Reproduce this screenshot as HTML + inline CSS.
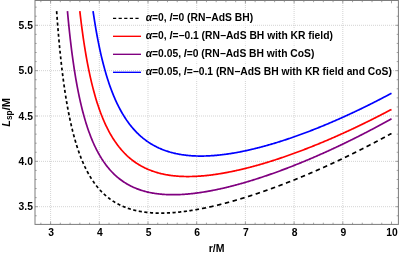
<!DOCTYPE html>
<html><head><meta charset="utf-8"><title>Lsp/M vs r/M</title>
<style>
html,body{margin:0;padding:0;background:#fff;}
body{width:399px;height:255px;overflow:hidden;}
svg{display:block;}
text{font-family:"Liberation Sans",Arial,Helvetica,sans-serif;font-weight:bold;fill:#000;}
.t{font-size:10.3px;}
.i{font-style:italic;}
</style></head><body>
<svg width="399" height="255" viewBox="0 0 399 255">
<rect x="0" y="0" width="399" height="255" fill="#fff"/>
<path d="M50.60 1V224.4M99.30 1V224.4M148.00 1V224.4M196.70 1V224.4M245.40 1V224.4M294.10 1V224.4M342.80 1V224.4M35.0 206.70H398.4M35.0 161.35H398.4M35.0 116.00H398.4M35.0 70.65H398.4M35.0 25.30H398.4" stroke="#c8c8c8" stroke-width="0.8" stroke-dasharray="1 1" fill="none"/>
<path d="M56.62 11.18 L56.83 14.06 L56.85 14.30M57.04 16.88 L57.24 19.63 L57.26 19.86M57.47 22.54 L57.68 25.17 L57.71 25.60M57.92 28.17 L58.13 30.68 L58.16 31.09M58.39 33.74 L58.59 36.14 L58.65 36.73M58.89 39.44 L59.09 41.72 L59.16 42.47M59.41 45.06 L59.61 47.23 L59.70 48.12M59.96 50.75 L60.17 52.81 L60.25 53.66M60.53 56.32 L60.74 58.28 L60.84 59.24M61.13 61.93 L61.34 63.78 L61.46 64.85M61.77 67.54 L61.98 69.30 L62.12 70.45M62.45 73.14 L62.66 74.80 L62.83 76.16M63.16 78.70 L63.37 80.27 L63.56 81.68M63.92 84.33 L64.13 85.80 L64.33 87.26 L64.35 87.38M64.71 89.86 L64.92 91.25 L65.13 92.62 L65.18 92.96M65.58 95.52 L65.79 96.82 L65.99 98.11 L66.06 98.53M66.48 101.03 L66.68 102.26 L66.89 103.46 L67.00 104.06M67.45 106.59 L67.65 107.74 L67.86 108.86 L68.00 109.61M68.48 112.15 L68.69 113.22 L68.90 114.27 L69.09 115.23M69.59 117.68 L69.80 118.67 L70.00 119.65 L70.21 120.62 L70.23 120.70M70.78 123.22 L70.99 124.14 L71.20 125.05 L71.40 125.94 L71.47 126.24M72.06 128.71 L72.27 129.57 L72.48 130.41 L72.68 131.24 L72.81 131.72M73.44 134.20 L73.65 134.99 L73.86 135.77 L74.07 136.53 L74.26 137.23M74.93 139.63 L75.14 140.36 L75.35 141.07 L75.55 141.78 L75.76 142.47 L75.81 142.65M76.56 145.08 L76.76 145.74 L76.97 146.39 L77.18 147.03 L77.39 147.67 L77.51 148.04M78.30 150.41 L78.51 151.02 L78.72 151.61 L78.93 152.20 L79.13 152.78 L79.34 153.36M80.22 155.75 L80.43 156.29 L80.64 156.83 L80.84 157.37 L81.05 157.90 L81.26 158.42 L81.35 158.64M82.31 161.00 L82.52 161.49 L82.73 161.98 L82.94 162.46 L83.14 162.94 L83.35 163.41 L83.54 163.84M84.60 166.15 L84.80 166.60 L85.01 167.03 L85.22 167.47 L85.43 167.89 L85.63 168.32 L85.84 168.74 L85.96 168.98M87.10 171.21 L87.31 171.61 L87.52 172.00 L87.73 172.38 L87.93 172.76 L88.14 173.14 L88.35 173.52 L88.56 173.89 L88.61 173.98M89.85 176.14 L90.06 176.48 L90.27 176.83 L90.47 177.17 L90.68 177.51 L90.89 177.84 L91.10 178.18 L91.30 178.51 L91.49 178.80M92.88 180.91 L93.09 181.21 L93.29 181.52 L93.50 181.82 L93.71 182.11 L93.92 182.41 L94.12 182.70 L94.33 182.99 L94.54 183.27 L94.69 183.49M96.20 185.48 L96.41 185.74 L96.61 186.01 L96.82 186.27 L97.03 186.53 L97.24 186.78 L97.44 187.04 L97.65 187.29 L97.86 187.54 L98.06 187.78 L98.19 187.93M99.85 189.82 L100.05 190.05 L100.26 190.28 L100.47 190.50 L100.68 190.72 L100.88 190.94 L101.09 191.16 L101.30 191.38 L101.51 191.59 L101.71 191.81 L101.92 192.02 L101.99 192.09M103.79 193.84 L104.00 194.04 L104.20 194.23 L104.41 194.42 L104.62 194.61 L104.83 194.80 L105.03 194.98 L105.24 195.17 L105.45 195.35 L105.65 195.53 L105.86 195.71 L106.07 195.89 L106.12 195.94M108.08 197.54 L108.28 197.71 L108.49 197.87 L108.70 198.03 L108.91 198.19 L109.11 198.35 L109.32 198.50 L109.53 198.66 L109.74 198.81 L109.94 198.97 L110.15 199.12 L110.36 199.27 L110.57 199.42 L110.58 199.43M112.64 200.84 L112.85 200.98 L113.05 201.11 L113.26 201.25 L113.47 201.38 L113.68 201.51 L113.88 201.64 L114.09 201.77 L114.30 201.90 L114.51 202.03 L114.71 202.15 L114.92 202.28 L115.13 202.40 L115.30 202.50M117.50 203.74 L117.71 203.85 L117.91 203.97 L118.12 204.07 L118.33 204.18 L118.54 204.29 L118.74 204.40 L118.95 204.50 L119.16 204.61 L119.37 204.71 L119.57 204.82 L119.78 204.92 L119.99 205.02 L120.20 205.12 L120.30 205.17M122.56 206.21 L122.77 206.30 L122.98 206.38 L123.19 206.47 L123.39 206.56 L123.60 206.65 L123.81 206.73 L124.02 206.82 L124.22 206.90 L124.43 206.99 L124.64 207.07 L124.85 207.15 L125.05 207.23 L125.26 207.31 L125.47 207.39 L125.49 207.40M127.84 208.26 L128.04 208.33 L128.25 208.40 L128.46 208.47 L128.67 208.54 L128.87 208.60 L129.08 208.67 L129.29 208.74 L129.50 208.81 L129.70 208.87 L129.91 208.94 L130.12 209.00 L130.33 209.06 L130.53 209.13 L130.74 209.19 L130.83 209.22M133.25 209.90 L133.46 209.95 L133.66 210.01 L133.87 210.06 L134.08 210.11 L134.29 210.17 L134.49 210.22 L134.70 210.27 L134.91 210.32 L135.12 210.37 L135.32 210.42 L135.53 210.47 L135.74 210.52 L135.95 210.56 L136.15 210.61 L136.29 210.64M138.75 211.16 L138.95 211.20 L139.16 211.24 L139.37 211.28 L139.58 211.32 L139.78 211.36 L139.99 211.39 L140.20 211.43 L140.41 211.47 L140.61 211.50 L140.82 211.54 L141.03 211.58 L141.24 211.61 L141.44 211.65 L141.65 211.68 L141.84 211.71M144.31 212.08 L144.52 212.11 L144.73 212.13 L144.94 212.16 L145.14 212.19 L145.35 212.21 L145.56 212.24 L145.77 212.26 L145.97 212.29 L146.18 212.31 L146.39 212.34 L146.60 212.36 L146.80 212.39 L147.01 212.41 L147.22 212.43 L147.43 212.45 L147.44 212.45M149.93 212.69 L150.14 212.71 L150.35 212.72 L150.56 212.74 L150.76 212.76 L150.97 212.77 L151.18 212.79 L151.39 212.80 L151.59 212.82 L151.80 212.83 L152.01 212.84 L152.22 212.86 L152.42 212.87 L152.63 212.88 L152.84 212.89 L153.05 212.91 L153.08 212.91M155.57 213.02 L155.78 213.03 L155.98 213.04 L156.19 213.05 L156.40 213.05 L156.61 213.06 L156.81 213.07 L157.02 213.07 L157.23 213.08 L157.44 213.08 L157.64 213.09 L157.85 213.09 L158.06 213.09 L158.27 213.10 L158.47 213.10 L158.68 213.10 L158.72 213.10M161.22 213.12 L161.43 213.12 L161.64 213.11 L161.85 213.11 L162.05 213.11 L162.26 213.11 L162.47 213.11 L162.68 213.10 L162.88 213.10 L163.09 213.10 L163.30 213.09 L163.51 213.09 L163.71 213.09 L163.92 213.08 L164.13 213.08 L164.34 213.07 L164.37 213.07M166.88 212.99 L167.08 212.98 L167.29 212.98 L167.50 212.97 L167.71 212.96 L167.91 212.95 L168.12 212.94 L168.33 212.93 L168.54 212.92 L168.74 212.91 L168.95 212.90 L169.16 212.89 L169.37 212.87 L169.57 212.86 L169.78 212.85 L169.99 212.84 L170.02 212.84M172.51 212.68 L172.72 212.66 L172.93 212.65 L173.14 212.63 L173.34 212.61 L173.55 212.60 L173.76 212.58 L173.97 212.57 L174.17 212.55 L174.38 212.53 L174.59 212.52 L174.80 212.50 L175.00 212.48 L175.21 212.46 L175.42 212.45 L175.62 212.43 L175.66 212.42M178.15 212.19 L178.36 212.17 L178.56 212.15 L178.77 212.13 L178.98 212.10 L179.19 212.08 L179.39 212.06 L179.60 212.04 L179.81 212.01 L180.02 211.99 L180.22 211.97 L180.43 211.95 L180.64 211.92 L180.85 211.90 L181.05 211.88 L181.26 211.85 L181.28 211.85M183.75 211.55 L183.96 211.52 L184.17 211.50 L184.37 211.47 L184.58 211.44 L184.79 211.42 L185.00 211.39 L185.20 211.36 L185.41 211.33 L185.62 211.31 L185.83 211.28 L186.03 211.25 L186.24 211.22 L186.45 211.19 L186.66 211.16 L186.86 211.14 L186.88 211.13M189.37 210.77 L189.58 210.74 L189.78 210.71 L189.99 210.68 L190.20 210.65 L190.41 210.61 L190.61 210.58 L190.82 210.55 L191.03 210.52 L191.24 210.48 L191.44 210.45 L191.65 210.42 L191.86 210.39 L192.07 210.35 L192.27 210.32 L192.48 210.28 L192.64 210.26M195.37 209.80 L195.58 209.76 L195.78 209.73 L195.99 209.69 L196.20 209.65 L196.41 209.62 L196.61 209.58 L196.82 209.54 L197.03 209.51 L197.24 209.47 L197.44 209.43 L197.65 209.39 L197.86 209.36 L198.07 209.32 L198.27 209.28 L198.48 209.24 L198.69 209.20 L198.90 209.17 L198.98 209.15M201.97 208.58 L202.18 208.54 L202.39 208.49 L202.60 208.45 L202.80 208.41 L203.01 208.37 L203.22 208.33 L203.43 208.29 L203.63 208.25 L203.84 208.20 L204.05 208.16 L204.26 208.12 L204.46 208.08 L204.67 208.03 L204.88 207.99 L205.09 207.95 L205.29 207.91 L205.50 207.86 L205.71 207.82 L205.92 207.78 L205.93 207.77M209.22 207.07 L209.43 207.02 L209.63 206.98 L209.84 206.93 L210.05 206.88 L210.26 206.84 L210.46 206.79 L210.67 206.74 L210.88 206.70 L211.09 206.65 L211.29 206.60 L211.50 206.56 L211.71 206.51 L211.92 206.46 L212.12 206.42 L212.33 206.37 L212.54 206.32 L212.75 206.27 L212.95 206.23 L213.16 206.18 L213.37 206.13 L213.56 206.09M217.02 205.26 L217.22 205.21 L217.43 205.16 L217.64 205.11 L217.85 205.06 L218.05 205.01 L218.26 204.96 L218.47 204.91 L218.68 204.86 L218.88 204.81 L219.09 204.75 L219.30 204.70 L219.51 204.65 L219.71 204.60 L219.92 204.55 L220.13 204.50 L220.34 204.44 L220.54 204.39 L220.75 204.34 L220.96 204.29 L221.17 204.23 L221.37 204.18M224.81 203.29 L225.02 203.24 L225.23 203.18 L225.44 203.13 L225.64 203.07 L225.85 203.02 L226.06 202.96 L226.27 202.91 L226.47 202.85 L226.68 202.79 L226.89 202.74 L227.10 202.68 L227.30 202.63 L227.51 202.57 L227.72 202.52 L227.93 202.46 L228.13 202.40 L228.34 202.35 L228.55 202.29 L228.76 202.23 L228.96 202.18 L229.15 202.12M232.58 201.17 L232.78 201.11 L232.99 201.05 L233.20 201.00 L233.41 200.94 L233.61 200.88 L233.82 200.82 L234.03 200.76 L234.24 200.70 L234.44 200.64 L234.65 200.58 L234.86 200.52 L235.07 200.46 L235.27 200.40 L235.48 200.34 L235.69 200.28 L235.90 200.22 L236.10 200.16 L236.31 200.10 L236.52 200.04 L236.73 199.98 L236.90 199.93M240.30 198.92 L240.51 198.86 L240.72 198.80 L240.93 198.73 L241.13 198.67 L241.34 198.61 L241.55 198.54 L241.76 198.48 L241.96 198.42 L242.17 198.36 L242.38 198.29 L242.59 198.23 L242.79 198.17 L243.00 198.10 L243.21 198.04 L243.42 197.98 L243.62 197.91 L243.83 197.85 L244.04 197.78 L244.25 197.72 L244.45 197.66 L244.61 197.61M248.00 196.55 L248.21 196.48 L248.41 196.41 L248.62 196.35 L248.83 196.28 L249.04 196.22 L249.24 196.15 L249.45 196.08 L249.66 196.02 L249.87 195.95 L250.07 195.88 L250.28 195.82 L250.49 195.75 L250.70 195.68 L250.90 195.62 L251.11 195.55 L251.32 195.48 L251.53 195.42 L251.73 195.35 L251.94 195.28 L252.15 195.21 L252.29 195.17M255.66 194.06 L255.86 193.99 L256.07 193.92 L256.28 193.85 L256.49 193.78 L256.69 193.71 L256.90 193.64 L257.11 193.58 L257.32 193.51 L257.52 193.44 L257.73 193.37 L257.94 193.30 L258.15 193.23 L258.35 193.16 L258.56 193.09 L258.77 193.02 L258.98 192.95 L259.18 192.88 L259.39 192.81 L259.60 192.73 L259.81 192.66 L259.91 192.63M263.28 191.47 L263.49 191.40 L263.70 191.32 L263.90 191.25 L264.11 191.18 L264.32 191.11 L264.53 191.04 L264.73 190.96 L264.94 190.89 L265.15 190.82 L265.36 190.74 L265.56 190.67 L265.77 190.60 L265.98 190.53 L266.19 190.45 L266.39 190.38 L266.60 190.31 L266.81 190.23 L267.02 190.16 L267.22 190.09 L267.43 190.01 L267.52 189.98M270.87 188.78 L271.08 188.71 L271.29 188.63 L271.49 188.56 L271.70 188.48 L271.91 188.40 L272.12 188.33 L272.32 188.25 L272.53 188.18 L272.74 188.10 L272.95 188.03 L273.15 187.95 L273.36 187.88 L273.57 187.80 L273.78 187.72 L273.98 187.65 L274.19 187.57 L274.40 187.49 L274.61 187.42 L274.81 187.34 L275.02 187.27 L275.09 187.24M278.43 186.00 L278.64 185.92 L278.84 185.84 L279.05 185.77 L279.26 185.69 L279.46 185.61 L279.67 185.53 L279.88 185.45 L280.09 185.38 L280.29 185.30 L280.50 185.22 L280.71 185.14 L280.92 185.06 L281.12 184.98 L281.33 184.90 L281.54 184.82 L281.75 184.75 L281.95 184.67 L282.16 184.59 L282.37 184.51 L282.58 184.43 L282.63 184.41M285.95 183.13 L286.16 183.05 L286.36 182.97 L286.57 182.89 L286.78 182.81 L286.99 182.73 L287.19 182.65 L287.40 182.57 L287.61 182.49 L287.82 182.40 L288.02 182.32 L288.23 182.24 L288.44 182.16 L288.65 182.08 L288.85 182.00 L289.06 181.92 L289.27 181.83 L289.48 181.75 L289.68 181.67 L289.89 181.59 L290.10 181.51 L290.13 181.49M293.43 180.18 L293.64 180.10 L293.85 180.01 L294.06 179.93 L294.26 179.85 L294.47 179.76 L294.68 179.68 L294.89 179.60 L295.09 179.51 L295.30 179.43 L295.51 179.35 L295.72 179.26 L295.92 179.18 L296.13 179.09 L296.34 179.01 L296.55 178.93 L296.75 178.84 L296.96 178.76 L297.17 178.67 L297.38 178.59 L297.58 178.51 L297.60 178.50M300.89 177.15 L301.09 177.07 L301.30 176.98 L301.51 176.89 L301.72 176.81 L301.92 176.72 L302.13 176.64 L302.34 176.55 L302.55 176.46 L302.75 176.38 L302.96 176.29 L303.17 176.21 L303.38 176.12 L303.58 176.03 L303.79 175.95 L304.00 175.86 L304.21 175.77 L304.41 175.69 L304.62 175.60 L304.83 175.51 L305.04 175.43M308.32 174.04 L308.53 173.95 L308.74 173.86 L308.94 173.77 L309.15 173.69 L309.36 173.60 L309.57 173.51 L309.77 173.42 L309.98 173.33 L310.19 173.24 L310.40 173.15 L310.60 173.07 L310.81 172.98 L311.02 172.89 L311.23 172.80 L311.43 172.71 L311.64 172.62 L311.85 172.53 L312.06 172.44 L312.26 172.35 L312.45 172.27M315.72 170.85 L315.93 170.76 L316.14 170.67 L316.34 170.58 L316.55 170.49 L316.76 170.40 L316.97 170.31 L317.17 170.22 L317.38 170.13 L317.59 170.04 L317.80 169.94 L318.00 169.85 L318.21 169.76 L318.42 169.67 L318.63 169.58 L318.83 169.49 L319.04 169.40 L319.25 169.30 L319.46 169.21 L319.66 169.12 L319.82 169.05M323.07 167.60 L323.28 167.51 L323.48 167.42 L323.69 167.33 L323.90 167.23 L324.11 167.14 L324.31 167.05 L324.52 166.95 L324.73 166.86 L324.94 166.77 L325.14 166.67 L325.35 166.58 L325.56 166.48 L325.77 166.39 L325.97 166.30 L326.18 166.20 L326.39 166.11 L326.60 166.02 L326.80 165.92 L327.01 165.83 L327.17 165.76M330.40 164.28 L330.61 164.19 L330.81 164.09 L331.02 163.99 L331.23 163.90 L331.44 163.80 L331.64 163.71 L331.85 163.61 L332.06 163.52 L332.27 163.42 L332.47 163.32 L332.68 163.23 L332.89 163.13 L333.10 163.04 L333.30 162.94 L333.51 162.84 L333.72 162.75 L333.93 162.65 L334.13 162.56 L334.34 162.46 L334.48 162.39M337.71 160.88 L337.92 160.78 L338.13 160.69 L338.34 160.59 L338.54 160.49 L338.75 160.39 L338.96 160.30 L339.17 160.20 L339.37 160.10 L339.58 160.00 L339.79 159.90 L339.99 159.81 L340.20 159.71 L340.41 159.61 L340.62 159.51 L340.82 159.41 L341.03 159.31 L341.24 159.21 L341.45 159.12 L341.65 159.02 L341.76 158.97M344.97 157.43 L345.18 157.33 L345.39 157.23 L345.60 157.13 L345.80 157.03 L346.01 156.93 L346.22 156.83 L346.43 156.73 L346.63 156.63 L346.84 156.53 L347.05 156.43 L347.26 156.33 L347.46 156.23 L347.67 156.12 L347.88 156.02 L348.09 155.92 L348.29 155.82 L348.50 155.72 L348.71 155.62 L348.92 155.52 L349.02 155.47M352.22 153.90 L352.43 153.80 L352.63 153.70 L352.84 153.60 L353.05 153.49 L353.26 153.39 L353.46 153.29 L353.67 153.19 L353.88 153.08 L354.09 152.98 L354.29 152.88 L354.50 152.78 L354.71 152.67 L354.92 152.57 L355.12 152.47 L355.33 152.36 L355.54 152.26 L355.75 152.16 L355.95 152.05 L356.16 151.95 L356.23 151.92M359.43 150.32 L359.64 150.21 L359.84 150.11 L360.05 150.00 L360.26 149.90 L360.47 149.79 L360.67 149.69 L360.88 149.58 L361.09 149.48 L361.30 149.37 L361.50 149.27 L361.71 149.16 L361.92 149.06 L362.13 148.95 L362.33 148.85 L362.54 148.74 L362.75 148.64 L362.96 148.53 L363.16 148.43 L363.37 148.32 L363.42 148.30M366.60 146.67 L366.81 146.56 L367.02 146.46 L367.23 146.35 L367.43 146.24 L367.64 146.14 L367.85 146.03 L368.06 145.92 L368.26 145.81 L368.47 145.71 L368.68 145.60 L368.89 145.49 L369.09 145.39 L369.30 145.28 L369.51 145.17 L369.72 145.06 L369.92 144.96 L370.13 144.85 L370.34 144.74 L370.55 144.63 L370.58 144.62M373.74 142.96 L373.95 142.86 L374.16 142.75 L374.37 142.64 L374.57 142.53 L374.78 142.42 L374.99 142.31 L375.20 142.20 L375.40 142.09 L375.61 141.98 L375.82 141.87 L376.03 141.76 L376.23 141.65 L376.44 141.55 L376.65 141.44 L376.86 141.33 L377.06 141.22 L377.27 141.11 L377.48 141.00 L377.69 140.89 L377.72 140.87M380.87 139.19 L381.07 139.08 L381.28 138.97 L381.49 138.86 L381.70 138.75 L381.90 138.64 L382.11 138.53 L382.32 138.42 L382.53 138.30 L382.73 138.19 L382.94 138.08 L383.15 137.97 L383.36 137.86 L383.56 137.75 L383.77 137.63 L383.98 137.52 L384.19 137.41 L384.39 137.30 L384.60 137.19 L384.81 137.07M387.94 135.38 L388.15 135.26 L388.35 135.15 L388.56 135.04 L388.77 134.92 L388.98 134.81 L389.18 134.70 L389.39 134.58 L389.60 134.47 L389.81 134.35 L390.01 134.24 L390.22 134.13 L390.43 134.01 L390.64 133.90 L390.84 133.79 L391.05 133.67 L391.26 133.56 L391.47 133.44 L391.50 133.42" stroke="#000000" stroke-width="1.7" fill="none"/>
<path d="M67.45 11.05 L68.14 18.56 L68.83 25.61 L69.52 32.25 L70.21 38.52 L70.90 44.44 L71.59 50.05 L72.29 55.37 L72.98 60.41 L73.67 65.21 L74.36 69.78 L75.05 74.13 L75.74 78.28 L76.44 82.25 L77.13 86.03 L77.82 89.66 L78.51 93.13 L79.20 96.46 L79.89 99.65 L80.59 102.72 L81.28 105.66 L81.97 108.49 L82.66 111.21 L83.35 113.83 L84.04 116.35 L84.73 118.78 L85.43 121.13 L86.12 123.39 L86.81 125.57 L87.50 127.68 L88.19 129.71 L88.88 131.68 L89.58 133.58 L90.27 135.42 L90.96 137.20 L91.65 138.92 L92.34 140.59 L93.03 142.21 L93.73 143.77 L94.42 145.29 L95.11 146.76 L95.80 148.18 L96.49 149.57 L97.18 150.91 L97.87 152.21 L98.57 153.47 L99.26 154.70 L99.95 155.89 L100.64 157.05 L101.33 158.17 L102.02 159.27 L102.72 160.33 L103.41 161.36 L104.10 162.37 L104.79 163.34 L105.48 164.29 L106.17 165.21 L106.87 166.11 L107.56 166.98 L108.25 167.83 L108.94 168.66 L109.63 169.46 L110.32 170.25 L111.01 171.01 L111.71 171.75 L112.40 172.47 L113.09 173.18 L113.78 173.86 L114.47 174.53 L115.16 175.17 L115.86 175.81 L116.55 176.42 L117.24 177.02 L117.93 177.60 L118.62 178.17 L119.31 178.72 L120.01 179.26 L120.70 179.78 L121.39 180.29 L122.08 180.79 L122.77 181.27 L123.46 181.74 L124.15 182.20 L124.85 182.65 L125.54 183.08 L126.23 183.50 L126.92 183.92 L127.61 184.32 L128.30 184.70 L129.00 185.08 L129.69 185.45 L130.38 185.81 L131.07 186.16 L131.76 186.50 L132.45 186.83 L133.15 187.15 L133.84 187.46 L134.53 187.76 L135.22 188.05 L135.91 188.34 L136.60 188.62 L137.29 188.88 L137.99 189.15 L138.68 189.40 L139.37 189.64 L140.06 189.88 L140.75 190.11 L141.44 190.34 L142.14 190.55 L142.83 190.76 L143.52 190.96 L144.21 191.16 L144.90 191.35 L145.59 191.53 L146.28 191.71 L146.98 191.88 L147.67 192.05 L148.36 192.20 L149.05 192.36 L149.74 192.50 L150.43 192.65 L151.13 192.78 L151.82 192.91 L152.51 193.04 L153.20 193.16 L153.89 193.27 L154.58 193.38 L155.28 193.49 L155.97 193.59 L156.66 193.68 L157.35 193.77 L158.04 193.86 L158.73 193.94 L159.42 194.02 L160.12 194.09 L160.81 194.16 L161.50 194.22 L162.19 194.28 L162.88 194.34 L163.57 194.39 L164.27 194.44 L164.96 194.48 L165.65 194.52 L166.34 194.56 L167.03 194.59 L167.72 194.62 L168.42 194.64 L169.11 194.66 L169.80 194.68 L170.49 194.69 L171.18 194.70 L171.87 194.71 L172.56 194.72 L173.26 194.72 L173.95 194.71 L174.64 194.71 L175.33 194.70 L176.02 194.68 L176.71 194.67 L177.41 194.65 L178.10 194.63 L178.79 194.60 L179.48 194.58 L180.17 194.55 L180.86 194.51 L181.56 194.48 L182.25 194.44 L182.94 194.40 L183.63 194.35 L184.32 194.31 L185.01 194.26 L185.70 194.20 L186.40 194.15 L187.09 194.09 L187.78 194.03 L188.47 193.97 L189.16 193.90 L189.85 193.84 L190.55 193.77 L191.24 193.70 L191.93 193.62 L192.62 193.54 L193.31 193.47 L194.00 193.38 L194.70 193.30 L195.39 193.21 L196.08 193.13 L196.77 193.04 L197.46 192.94 L198.15 192.85 L198.84 192.75 L199.54 192.65 L200.23 192.55 L200.92 192.45 L201.61 192.35 L202.30 192.24 L202.99 192.13 L203.69 192.02 L204.38 191.91 L205.07 191.79 L205.76 191.68 L206.45 191.56 L207.14 191.44 L207.84 191.32 L208.53 191.19 L209.22 191.07 L209.91 190.94 L210.60 190.81 L211.29 190.68 L211.98 190.55 L212.68 190.42 L213.37 190.28 L214.06 190.14 L214.75 190.00 L215.44 189.86 L216.13 189.72 L216.83 189.57 L217.52 189.43 L218.21 189.28 L218.90 189.13 L219.59 188.98 L220.28 188.83 L220.97 188.68 L221.67 188.52 L222.36 188.36 L223.05 188.21 L223.74 188.05 L224.43 187.88 L225.12 187.72 L225.82 187.56 L226.51 187.39 L227.20 187.22 L227.89 187.06 L228.58 186.89 L229.27 186.71 L229.97 186.54 L230.66 186.37 L231.35 186.19 L232.04 186.01 L232.73 185.84 L233.42 185.66 L234.11 185.48 L234.81 185.29 L235.50 185.11 L236.19 184.92 L236.88 184.74 L237.57 184.55 L238.26 184.36 L238.96 184.17 L239.65 183.98 L240.34 183.79 L241.03 183.59 L241.72 183.40 L242.41 183.20 L243.11 183.00 L243.80 182.81 L244.49 182.61 L245.18 182.40 L245.87 182.20 L246.56 182.00 L247.25 181.79 L247.95 181.59 L248.64 181.38 L249.33 181.17 L250.02 180.96 L250.71 180.75 L251.40 180.54 L252.10 180.33 L252.79 180.11 L253.48 179.90 L254.17 179.68 L254.86 179.46 L255.55 179.25 L256.25 179.03 L256.94 178.80 L257.63 178.58 L258.32 178.36 L259.01 178.14 L259.70 177.91 L260.39 177.68 L261.09 177.46 L261.78 177.23 L262.47 177.00 L263.16 176.77 L263.85 176.54 L264.54 176.31 L265.24 176.07 L265.93 175.84 L266.62 175.60 L267.31 175.36 L268.00 175.13 L268.69 174.89 L269.39 174.65 L270.08 174.41 L270.77 174.17 L271.46 173.92 L272.15 173.68 L272.84 173.44 L273.53 173.19 L274.23 172.94 L274.92 172.70 L275.61 172.45 L276.30 172.20 L276.99 171.95 L277.68 171.70 L278.38 171.44 L279.07 171.19 L279.76 170.94 L280.45 170.68 L281.14 170.42 L281.83 170.17 L282.53 169.91 L283.22 169.65 L283.91 169.39 L284.60 169.13 L285.29 168.87 L285.98 168.60 L286.67 168.34 L287.37 168.08 L288.06 167.81 L288.75 167.54 L289.44 167.28 L290.13 167.01 L290.82 166.74 L291.52 166.47 L292.21 166.20 L292.90 165.93 L293.59 165.65 L294.28 165.38 L294.97 165.11 L295.67 164.83 L296.36 164.55 L297.05 164.28 L297.74 164.00 L298.43 163.72 L299.12 163.44 L299.81 163.16 L300.51 162.88 L301.20 162.60 L301.89 162.31 L302.58 162.03 L303.27 161.74 L303.96 161.46 L304.66 161.17 L305.35 160.88 L306.04 160.59 L306.73 160.30 L307.42 160.01 L308.11 159.72 L308.80 159.43 L309.50 159.14 L310.19 158.85 L310.88 158.55 L311.57 158.26 L312.26 157.96 L312.95 157.66 L313.65 157.37 L314.34 157.07 L315.03 156.77 L315.72 156.47 L316.41 156.17 L317.10 155.86 L317.80 155.56 L318.49 155.26 L319.18 154.95 L319.87 154.65 L320.56 154.34 L321.25 154.04 L321.94 153.73 L322.64 153.42 L323.33 153.11 L324.02 152.80 L324.71 152.49 L325.40 152.18 L326.09 151.87 L326.79 151.55 L327.48 151.24 L328.17 150.92 L328.86 150.61 L329.55 150.29 L330.24 149.97 L330.94 149.66 L331.63 149.34 L332.32 149.02 L333.01 148.70 L333.70 148.38 L334.39 148.05 L335.08 147.73 L335.78 147.41 L336.47 147.08 L337.16 146.76 L337.85 146.43 L338.54 146.11 L339.23 145.78 L339.93 145.45 L340.62 145.12 L341.31 144.79 L342.00 144.46 L342.69 144.13 L343.38 143.80 L344.08 143.46 L344.77 143.13 L345.46 142.79 L346.15 142.46 L346.84 142.12 L347.53 141.78 L348.22 141.45 L348.92 141.11 L349.61 140.77 L350.30 140.43 L350.99 140.09 L351.68 139.75 L352.37 139.40 L353.07 139.06 L353.76 138.72 L354.45 138.37 L355.14 138.03 L355.83 137.68 L356.52 137.33 L357.22 136.99 L357.91 136.64 L358.60 136.29 L359.29 135.94 L359.98 135.59 L360.67 135.23 L361.36 134.88 L362.06 134.53 L362.75 134.18 L363.44 133.82 L364.13 133.46 L364.82 133.11 L365.51 132.75 L366.21 132.39 L366.90 132.04 L367.59 131.68 L368.28 131.32 L368.97 130.95 L369.66 130.59 L370.36 130.23 L371.05 129.87 L371.74 129.50 L372.43 129.14 L373.12 128.77 L373.81 128.41 L374.50 128.04 L375.20 127.67 L375.89 127.30 L376.58 126.94 L377.27 126.57 L377.96 126.19 L378.65 125.82 L379.35 125.45 L380.04 125.08 L380.73 124.70 L381.42 124.33 L382.11 123.95 L382.80 123.58 L383.50 123.20 L384.19 122.82 L384.88 122.45 L385.57 122.07 L386.26 121.69 L386.95 121.31 L387.64 120.92 L388.34 120.54 L389.03 120.16 L389.72 119.78 L390.41 119.39 L391.10 119.01 L391.50 118.79" stroke="#800080" stroke-width="1.7" fill="none" stroke-linejoin="round"/>
<path d="M79.82 11.13 L80.52 17.09 L81.21 22.74 L81.90 28.12 L82.59 33.23 L83.28 38.10 L83.97 42.75 L84.67 47.19 L85.36 51.44 L86.05 55.50 L86.74 59.39 L87.43 63.12 L88.12 66.69 L88.82 70.13 L89.51 73.43 L90.20 76.60 L90.89 79.65 L91.58 82.59 L92.27 85.42 L92.96 88.15 L93.66 90.78 L94.35 93.32 L95.04 95.77 L95.73 98.14 L96.42 100.43 L97.11 102.64 L97.81 104.78 L98.50 106.85 L99.19 108.85 L99.88 110.79 L100.57 112.67 L101.26 114.49 L101.96 116.26 L102.65 117.97 L103.34 119.63 L104.03 121.25 L104.72 122.81 L105.41 124.33 L106.10 125.80 L106.80 127.23 L107.49 128.62 L108.18 129.98 L108.87 131.29 L109.56 132.57 L110.25 133.81 L110.95 135.02 L111.64 136.19 L112.33 137.34 L113.02 138.45 L113.71 139.53 L114.40 140.58 L115.09 141.61 L115.79 142.61 L116.48 143.58 L117.17 144.53 L117.86 145.45 L118.55 146.35 L119.24 147.23 L119.94 148.08 L120.63 148.91 L121.32 149.72 L122.01 150.51 L122.70 151.28 L123.39 152.03 L124.09 152.76 L124.78 153.47 L125.47 154.17 L126.16 154.84 L126.85 155.51 L127.54 156.15 L128.23 156.78 L128.93 157.39 L129.62 157.99 L130.31 158.57 L131.00 159.13 L131.69 159.69 L132.38 160.23 L133.08 160.75 L133.77 161.27 L134.46 161.77 L135.15 162.25 L135.84 162.73 L136.53 163.19 L137.23 163.64 L137.92 164.08 L138.61 164.51 L139.30 164.93 L139.99 165.34 L140.68 165.73 L141.37 166.12 L142.07 166.50 L142.76 166.86 L143.45 167.22 L144.14 167.57 L144.83 167.91 L145.52 168.24 L146.22 168.56 L146.91 168.87 L147.60 169.17 L148.29 169.47 L148.98 169.76 L149.67 170.04 L150.37 170.31 L151.06 170.57 L151.75 170.83 L152.44 171.08 L153.13 171.32 L153.82 171.56 L154.51 171.79 L155.21 172.01 L155.90 172.22 L156.59 172.43 L157.28 172.63 L157.97 172.83 L158.66 173.02 L159.36 173.20 L160.05 173.38 L160.74 173.55 L161.43 173.71 L162.12 173.87 L162.81 174.03 L163.51 174.18 L164.20 174.32 L164.89 174.46 L165.58 174.59 L166.27 174.72 L166.96 174.84 L167.65 174.96 L168.35 175.07 L169.04 175.18 L169.73 175.29 L170.42 175.38 L171.11 175.48 L171.80 175.57 L172.50 175.65 L173.19 175.73 L173.88 175.81 L174.57 175.88 L175.26 175.95 L175.95 176.02 L176.65 176.08 L177.34 176.13 L178.03 176.18 L178.72 176.23 L179.41 176.28 L180.10 176.32 L180.79 176.36 L181.49 176.39 L182.18 176.42 L182.87 176.45 L183.56 176.47 L184.25 176.49 L184.94 176.50 L185.64 176.52 L186.33 176.53 L187.02 176.53 L187.71 176.53 L188.40 176.53 L189.09 176.53 L189.78 176.52 L190.48 176.51 L191.17 176.50 L191.86 176.49 L192.55 176.47 L193.24 176.45 L193.93 176.42 L194.63 176.39 L195.32 176.36 L196.01 176.33 L196.70 176.30 L197.39 176.26 L198.08 176.22 L198.78 176.17 L199.47 176.13 L200.16 176.08 L200.85 176.03 L201.54 175.97 L202.23 175.92 L202.92 175.86 L203.62 175.80 L204.31 175.73 L205.00 175.67 L205.69 175.60 L206.38 175.53 L207.07 175.46 L207.77 175.38 L208.46 175.30 L209.15 175.22 L209.84 175.14 L210.53 175.06 L211.22 174.97 L211.92 174.88 L212.61 174.79 L213.30 174.70 L213.99 174.61 L214.68 174.51 L215.37 174.41 L216.06 174.31 L216.76 174.21 L217.45 174.10 L218.14 174.00 L218.83 173.89 L219.52 173.78 L220.21 173.67 L220.91 173.55 L221.60 173.44 L222.29 173.32 L222.98 173.20 L223.67 173.08 L224.36 172.95 L225.06 172.83 L225.75 172.70 L226.44 172.57 L227.13 172.44 L227.82 172.31 L228.51 172.18 L229.20 172.04 L229.90 171.91 L230.59 171.77 L231.28 171.63 L231.97 171.49 L232.66 171.34 L233.35 171.20 L234.05 171.05 L234.74 170.90 L235.43 170.75 L236.12 170.60 L236.81 170.45 L237.50 170.29 L238.20 170.14 L238.89 169.98 L239.58 169.82 L240.27 169.66 L240.96 169.50 L241.65 169.34 L242.34 169.17 L243.04 169.01 L243.73 168.84 L244.42 168.67 L245.11 168.50 L245.80 168.33 L246.49 168.15 L247.19 167.98 L247.88 167.80 L248.57 167.63 L249.26 167.45 L249.95 167.27 L250.64 167.09 L251.34 166.90 L252.03 166.72 L252.72 166.54 L253.41 166.35 L254.10 166.16 L254.79 165.97 L255.48 165.78 L256.18 165.59 L256.87 165.40 L257.56 165.20 L258.25 165.01 L258.94 164.81 L259.63 164.61 L260.33 164.42 L261.02 164.22 L261.71 164.01 L262.40 163.81 L263.09 163.61 L263.78 163.40 L264.48 163.20 L265.17 162.99 L265.86 162.78 L266.55 162.57 L267.24 162.36 L267.93 162.15 L268.62 161.94 L269.32 161.72 L270.01 161.51 L270.70 161.29 L271.39 161.07 L272.08 160.85 L272.77 160.63 L273.47 160.41 L274.16 160.19 L274.85 159.97 L275.54 159.75 L276.23 159.52 L276.92 159.29 L277.61 159.07 L278.31 158.84 L279.00 158.61 L279.69 158.38 L280.38 158.15 L281.07 157.91 L281.76 157.68 L282.46 157.45 L283.15 157.21 L283.84 156.97 L284.53 156.74 L285.22 156.50 L285.91 156.26 L286.61 156.02 L287.30 155.78 L287.99 155.53 L288.68 155.29 L289.37 155.04 L290.06 154.80 L290.75 154.55 L291.45 154.30 L292.14 154.06 L292.83 153.81 L293.52 153.56 L294.21 153.30 L294.90 153.05 L295.60 152.80 L296.29 152.54 L296.98 152.29 L297.67 152.03 L298.36 151.78 L299.05 151.52 L299.75 151.26 L300.44 151.00 L301.13 150.74 L301.82 150.48 L302.51 150.21 L303.20 149.95 L303.89 149.68 L304.59 149.42 L305.28 149.15 L305.97 148.88 L306.66 148.62 L307.35 148.35 L308.04 148.08 L308.74 147.81 L309.43 147.53 L310.12 147.26 L310.81 146.99 L311.50 146.71 L312.19 146.44 L312.89 146.16 L313.58 145.88 L314.27 145.61 L314.96 145.33 L315.65 145.05 L316.34 144.77 L317.03 144.48 L317.73 144.20 L318.42 143.92 L319.11 143.63 L319.80 143.35 L320.49 143.06 L321.18 142.78 L321.88 142.49 L322.57 142.20 L323.26 141.91 L323.95 141.62 L324.64 141.33 L325.33 141.04 L326.03 140.74 L326.72 140.45 L327.41 140.16 L328.10 139.86 L328.79 139.56 L329.48 139.27 L330.17 138.97 L330.87 138.67 L331.56 138.37 L332.25 138.07 L332.94 137.77 L333.63 137.47 L334.32 137.17 L335.02 136.86 L335.71 136.56 L336.40 136.25 L337.09 135.95 L337.78 135.64 L338.47 135.33 L339.17 135.02 L339.86 134.71 L340.55 134.40 L341.24 134.09 L341.93 133.78 L342.62 133.47 L343.31 133.15 L344.01 132.84 L344.70 132.52 L345.39 132.21 L346.08 131.89 L346.77 131.57 L347.46 131.26 L348.16 130.94 L348.85 130.62 L349.54 130.30 L350.23 129.98 L350.92 129.65 L351.61 129.33 L352.31 129.01 L353.00 128.68 L353.69 128.36 L354.38 128.03 L355.07 127.70 L355.76 127.38 L356.45 127.05 L357.15 126.72 L357.84 126.39 L358.53 126.06 L359.22 125.72 L359.91 125.39 L360.60 125.06 L361.30 124.72 L361.99 124.39 L362.68 124.05 L363.37 123.72 L364.06 123.38 L364.75 123.04 L365.44 122.70 L366.14 122.36 L366.83 122.02 L367.52 121.68 L368.21 121.34 L368.90 121.00 L369.59 120.66 L370.29 120.31 L370.98 119.97 L371.67 119.62 L372.36 119.27 L373.05 118.93 L373.74 118.58 L374.44 118.23 L375.13 117.88 L375.82 117.53 L376.51 117.18 L377.20 116.83 L377.89 116.47 L378.58 116.12 L379.28 115.77 L379.97 115.41 L380.66 115.06 L381.35 114.70 L382.04 114.34 L382.73 113.99 L383.43 113.63 L384.12 113.27 L384.81 112.91 L385.50 112.55 L386.19 112.18 L386.88 111.82 L387.58 111.46 L388.27 111.09 L388.96 110.73 L389.65 110.36 L390.34 110.00 L391.03 109.63 L391.50 109.38" stroke="#ff0000" stroke-width="1.7" fill="none" stroke-linejoin="round"/>
<path d="M93.03 11.06 L93.73 15.72 L94.42 20.18 L95.11 24.45 L95.80 28.55 L96.49 32.48 L97.18 36.25 L97.87 39.88 L98.57 43.37 L99.26 46.73 L99.95 49.96 L100.64 53.08 L101.33 56.08 L102.02 58.98 L102.72 61.78 L103.41 64.48 L104.10 67.09 L104.79 69.62 L105.48 72.06 L106.17 74.42 L106.87 76.71 L107.56 78.93 L108.25 81.07 L108.94 83.15 L109.63 85.17 L110.32 87.12 L111.01 89.02 L111.71 90.86 L112.40 92.64 L113.09 94.38 L113.78 96.06 L114.47 97.70 L115.16 99.29 L115.86 100.83 L116.55 102.34 L117.24 103.80 L117.93 105.22 L118.62 106.60 L119.31 107.95 L120.01 109.26 L120.70 110.53 L121.39 111.77 L122.08 112.98 L122.77 114.16 L123.46 115.31 L124.15 116.42 L124.85 117.51 L125.54 118.57 L126.23 119.60 L126.92 120.61 L127.61 121.59 L128.30 122.55 L129.00 123.49 L129.69 124.40 L130.38 125.29 L131.07 126.15 L131.76 127.00 L132.45 127.82 L133.15 128.62 L133.84 129.41 L134.53 130.17 L135.22 130.92 L135.91 131.65 L136.60 132.36 L137.29 133.05 L137.99 133.73 L138.68 134.39 L139.37 135.04 L140.06 135.67 L140.75 136.28 L141.44 136.88 L142.14 137.47 L142.83 138.04 L143.52 138.59 L144.21 139.14 L144.90 139.67 L145.59 140.19 L146.28 140.69 L146.98 141.19 L147.67 141.67 L148.36 142.14 L149.05 142.59 L149.74 143.04 L150.43 143.48 L151.13 143.90 L151.82 144.32 L152.51 144.72 L153.20 145.12 L153.89 145.50 L154.58 145.88 L155.28 146.24 L155.97 146.60 L156.66 146.95 L157.35 147.28 L158.04 147.61 L158.73 147.94 L159.42 148.25 L160.12 148.55 L160.81 148.85 L161.50 149.14 L162.19 149.42 L162.88 149.69 L163.57 149.96 L164.27 150.22 L164.96 150.47 L165.65 150.71 L166.34 150.95 L167.03 151.18 L167.72 151.40 L168.42 151.62 L169.11 151.83 L169.80 152.04 L170.49 152.23 L171.18 152.43 L171.87 152.61 L172.56 152.79 L173.26 152.97 L173.95 153.13 L174.64 153.30 L175.33 153.45 L176.02 153.61 L176.71 153.75 L177.41 153.89 L178.10 154.03 L178.79 154.16 L179.48 154.29 L180.17 154.41 L180.86 154.52 L181.56 154.64 L182.25 154.74 L182.94 154.84 L183.63 154.94 L184.32 155.03 L185.01 155.12 L185.70 155.21 L186.40 155.29 L187.09 155.36 L187.78 155.43 L188.47 155.50 L189.16 155.56 L189.85 155.62 L190.55 155.68 L191.24 155.73 L191.93 155.78 L192.62 155.82 L193.31 155.86 L194.00 155.89 L194.70 155.93 L195.39 155.96 L196.08 155.98 L196.77 156.00 L197.46 156.02 L198.15 156.04 L198.84 156.05 L199.54 156.06 L200.23 156.06 L200.92 156.06 L201.61 156.06 L202.30 156.06 L202.99 156.05 L203.69 156.04 L204.38 156.02 L205.07 156.01 L205.76 155.99 L206.45 155.96 L207.14 155.94 L207.84 155.91 L208.53 155.88 L209.22 155.84 L209.91 155.81 L210.60 155.77 L211.29 155.72 L211.98 155.68 L212.68 155.63 L213.37 155.58 L214.06 155.53 L214.75 155.47 L215.44 155.41 L216.13 155.35 L216.83 155.29 L217.52 155.22 L218.21 155.15 L218.90 155.08 L219.59 155.01 L220.28 154.94 L220.97 154.86 L221.67 154.78 L222.36 154.70 L223.05 154.61 L223.74 154.53 L224.43 154.44 L225.12 154.35 L225.82 154.25 L226.51 154.16 L227.20 154.06 L227.89 153.96 L228.58 153.86 L229.27 153.76 L229.97 153.65 L230.66 153.54 L231.35 153.43 L232.04 153.32 L232.73 153.21 L233.42 153.09 L234.11 152.97 L234.81 152.85 L235.50 152.73 L236.19 152.61 L236.88 152.49 L237.57 152.36 L238.26 152.23 L238.96 152.10 L239.65 151.97 L240.34 151.83 L241.03 151.70 L241.72 151.56 L242.41 151.42 L243.11 151.28 L243.80 151.13 L244.49 150.99 L245.18 150.84 L245.87 150.70 L246.56 150.55 L247.25 150.39 L247.95 150.24 L248.64 150.09 L249.33 149.93 L250.02 149.77 L250.71 149.61 L251.40 149.45 L252.10 149.29 L252.79 149.13 L253.48 148.96 L254.17 148.79 L254.86 148.62 L255.55 148.45 L256.25 148.28 L256.94 148.11 L257.63 147.93 L258.32 147.76 L259.01 147.58 L259.70 147.40 L260.39 147.22 L261.09 147.04 L261.78 146.85 L262.47 146.67 L263.16 146.48 L263.85 146.30 L264.54 146.11 L265.24 145.92 L265.93 145.73 L266.62 145.53 L267.31 145.34 L268.00 145.14 L268.69 144.94 L269.39 144.75 L270.08 144.55 L270.77 144.35 L271.46 144.14 L272.15 143.94 L272.84 143.73 L273.53 143.53 L274.23 143.32 L274.92 143.11 L275.61 142.90 L276.30 142.69 L276.99 142.48 L277.68 142.26 L278.38 142.05 L279.07 141.83 L279.76 141.62 L280.45 141.40 L281.14 141.18 L281.83 140.96 L282.53 140.73 L283.22 140.51 L283.91 140.28 L284.60 140.06 L285.29 139.83 L285.98 139.60 L286.67 139.37 L287.37 139.14 L288.06 138.91 L288.75 138.68 L289.44 138.45 L290.13 138.21 L290.82 137.97 L291.52 137.74 L292.21 137.50 L292.90 137.26 L293.59 137.02 L294.28 136.78 L294.97 136.53 L295.67 136.29 L296.36 136.04 L297.05 135.80 L297.74 135.55 L298.43 135.30 L299.12 135.05 L299.81 134.80 L300.51 134.55 L301.20 134.30 L301.89 134.04 L302.58 133.79 L303.27 133.53 L303.96 133.28 L304.66 133.02 L305.35 132.76 L306.04 132.50 L306.73 132.24 L307.42 131.98 L308.11 131.71 L308.80 131.45 L309.50 131.19 L310.19 130.92 L310.88 130.65 L311.57 130.38 L312.26 130.11 L312.95 129.84 L313.65 129.57 L314.34 129.30 L315.03 129.03 L315.72 128.75 L316.41 128.48 L317.10 128.20 L317.80 127.93 L318.49 127.65 L319.18 127.37 L319.87 127.09 L320.56 126.81 L321.25 126.53 L321.94 126.24 L322.64 125.96 L323.33 125.68 L324.02 125.39 L324.71 125.10 L325.40 124.82 L326.09 124.53 L326.79 124.24 L327.48 123.95 L328.17 123.66 L328.86 123.36 L329.55 123.07 L330.24 122.78 L330.94 122.48 L331.63 122.18 L332.32 121.89 L333.01 121.59 L333.70 121.29 L334.39 120.99 L335.08 120.69 L335.78 120.39 L336.47 120.09 L337.16 119.78 L337.85 119.48 L338.54 119.17 L339.23 118.87 L339.93 118.56 L340.62 118.25 L341.31 117.94 L342.00 117.64 L342.69 117.32 L343.38 117.01 L344.08 116.70 L344.77 116.39 L345.46 116.07 L346.15 115.76 L346.84 115.44 L347.53 115.13 L348.22 114.81 L348.92 114.49 L349.61 114.17 L350.30 113.85 L350.99 113.53 L351.68 113.21 L352.37 112.88 L353.07 112.56 L353.76 112.24 L354.45 111.91 L355.14 111.58 L355.83 111.26 L356.52 110.93 L357.22 110.60 L357.91 110.27 L358.60 109.94 L359.29 109.61 L359.98 109.28 L360.67 108.94 L361.36 108.61 L362.06 108.27 L362.75 107.94 L363.44 107.60 L364.13 107.26 L364.82 106.92 L365.51 106.59 L366.21 106.25 L366.90 105.90 L367.59 105.56 L368.28 105.22 L368.97 104.88 L369.66 104.53 L370.36 104.19 L371.05 103.84 L371.74 103.50 L372.43 103.15 L373.12 102.80 L373.81 102.45 L374.50 102.10 L375.20 101.75 L375.89 101.40 L376.58 101.04 L377.27 100.69 L377.96 100.34 L378.65 99.98 L379.35 99.63 L380.04 99.27 L380.73 98.91 L381.42 98.55 L382.11 98.19 L382.80 97.83 L383.50 97.47 L384.19 97.11 L384.88 96.75 L385.57 96.39 L386.26 96.02 L386.95 95.66 L387.64 95.29 L388.34 94.92 L389.03 94.56 L389.72 94.19 L390.41 93.82 L391.10 93.45 L391.50 93.24" stroke="#0000ff" stroke-width="1.7" fill="none" stroke-linejoin="round"/>
<rect x="35.0" y="0.5" width="363.4" height="223.9" fill="none" stroke="#7c7c7c" stroke-width="1"/>
<path d="M40.86 224.4v-1.7M40.86 0.5v1.7M50.60 224.4v-2.8M50.60 0.5v2.8M60.34 224.4v-1.7M60.34 0.5v1.7M70.08 224.4v-1.7M70.08 0.5v1.7M79.82 224.4v-1.7M79.82 0.5v1.7M89.56 224.4v-1.7M89.56 0.5v1.7M99.30 224.4v-2.8M99.30 0.5v2.8M109.04 224.4v-1.7M109.04 0.5v1.7M118.78 224.4v-1.7M118.78 0.5v1.7M128.52 224.4v-1.7M128.52 0.5v1.7M138.26 224.4v-1.7M138.26 0.5v1.7M148.00 224.4v-2.8M148.00 0.5v2.8M157.74 224.4v-1.7M157.74 0.5v1.7M167.48 224.4v-1.7M167.48 0.5v1.7M177.22 224.4v-1.7M177.22 0.5v1.7M186.96 224.4v-1.7M186.96 0.5v1.7M196.70 224.4v-2.8M196.70 0.5v2.8M206.44 224.4v-1.7M206.44 0.5v1.7M216.18 224.4v-1.7M216.18 0.5v1.7M225.92 224.4v-1.7M225.92 0.5v1.7M235.66 224.4v-1.7M235.66 0.5v1.7M245.40 224.4v-2.8M245.40 0.5v2.8M255.14 224.4v-1.7M255.14 0.5v1.7M264.88 224.4v-1.7M264.88 0.5v1.7M274.62 224.4v-1.7M274.62 0.5v1.7M284.36 224.4v-1.7M284.36 0.5v1.7M294.10 224.4v-2.8M294.10 0.5v2.8M303.84 224.4v-1.7M303.84 0.5v1.7M313.58 224.4v-1.7M313.58 0.5v1.7M323.32 224.4v-1.7M323.32 0.5v1.7M333.06 224.4v-1.7M333.06 0.5v1.7M342.80 224.4v-2.8M342.80 0.5v2.8M352.54 224.4v-1.7M352.54 0.5v1.7M362.28 224.4v-1.7M362.28 0.5v1.7M372.02 224.4v-1.7M372.02 0.5v1.7M381.76 224.4v-1.7M381.76 0.5v1.7M391.50 224.4v-2.8M391.50 0.5v2.8M35.0 215.77h1.7M398.4 215.77h-1.7M35.0 206.70h2.8M398.4 206.70h-2.8M35.0 197.63h1.7M398.4 197.63h-1.7M35.0 188.56h1.7M398.4 188.56h-1.7M35.0 179.49h1.7M398.4 179.49h-1.7M35.0 170.42h1.7M398.4 170.42h-1.7M35.0 161.35h2.8M398.4 161.35h-2.8M35.0 152.28h1.7M398.4 152.28h-1.7M35.0 143.21h1.7M398.4 143.21h-1.7M35.0 134.14h1.7M398.4 134.14h-1.7M35.0 125.07h1.7M398.4 125.07h-1.7M35.0 116.00h2.8M398.4 116.00h-2.8M35.0 106.93h1.7M398.4 106.93h-1.7M35.0 97.86h1.7M398.4 97.86h-1.7M35.0 88.79h1.7M398.4 88.79h-1.7M35.0 79.72h1.7M398.4 79.72h-1.7M35.0 70.65h2.8M398.4 70.65h-2.8M35.0 61.58h1.7M398.4 61.58h-1.7M35.0 52.51h1.7M398.4 52.51h-1.7M35.0 43.44h1.7M398.4 43.44h-1.7M35.0 34.37h1.7M398.4 34.37h-1.7M35.0 25.30h2.8M398.4 25.30h-2.8M35.0 16.23h1.7M398.4 16.23h-1.7M35.0 7.16h1.7M398.4 7.16h-1.7" stroke="#7c7c7c" stroke-width="0.7" fill="none"/>
<text class="t" x="51.10" y="236.0" text-anchor="middle">3</text>
<text class="t" x="99.80" y="236.0" text-anchor="middle">4</text>
<text class="t" x="148.50" y="236.0" text-anchor="middle">5</text>
<text class="t" x="197.20" y="236.0" text-anchor="middle">6</text>
<text class="t" x="245.90" y="236.0" text-anchor="middle">7</text>
<text class="t" x="294.60" y="236.0" text-anchor="middle">8</text>
<text class="t" x="343.30" y="236.0" text-anchor="middle">9</text>
<text class="t" x="392.00" y="236.0" text-anchor="middle">10</text>
<text class="t" x="32.9" y="210.40" text-anchor="end">3.5</text>
<text class="t" x="32.9" y="165.05" text-anchor="end">4.0</text>
<text class="t" x="32.9" y="119.70" text-anchor="end">4.5</text>
<text class="t" x="32.9" y="74.35" text-anchor="end">5.0</text>
<text class="t" x="32.9" y="29.00" text-anchor="end">5.5</text>
<text class="t" x="216.5" y="252.2" text-anchor="middle" style="font-size:10.5px">r/M</text>
<text class="t" transform="translate(10.2 112.4) rotate(-90)" text-anchor="middle" style="font-size:11px"><tspan class="i">L</tspan><tspan dy="2" style="font-size:8.3px">sp</tspan><tspan dy="-2">/M</tspan></text>
<rect x="158" y="10.3" width="95" height="16" fill="#fff" fill-opacity="0.6"/>
<path d="M113 18.3H141" stroke="#000000" stroke-width="1.35" fill="none" stroke-dasharray="3.2 2.4"/>
<text class="t" x="145.7" y="20.70"><tspan class="i">α</tspan>=0, <tspan class="i">l</tspan>=0 (RN−AdS BH)</text>
<rect x="158" y="28.299999999999997" width="175" height="16" fill="#fff" fill-opacity="0.6"/>
<path d="M113 36.3H141" stroke="#ff0000" stroke-width="1.35" fill="none"/>
<text class="t" x="145.7" y="38.70"><tspan class="i">α</tspan>=0, <tspan class="i">l</tspan>=−0.1 (RN−AdS BH with KR field)</text>
<rect x="158" y="46.3" width="157" height="16" fill="#fff" fill-opacity="0.6"/>
<path d="M113 54.3H141" stroke="#800080" stroke-width="1.35" fill="none"/>
<text class="t" x="145.7" y="56.70"><tspan class="i">α</tspan>=0.05, <tspan class="i">l</tspan>=0 (RN−AdS BH with CoS)</text>
<rect x="158" y="64.3" width="233" height="16" fill="#fff" fill-opacity="0.6"/>
<path d="M113 72.3H141" stroke="#0000ff" stroke-width="1.35" fill="none"/>
<text class="t" x="145.7" y="74.70"><tspan class="i">α</tspan>=0.05, <tspan class="i">l</tspan>=−0.1 (RN−AdS BH with KR field and CoS)</text>
</svg>
</body></html>
